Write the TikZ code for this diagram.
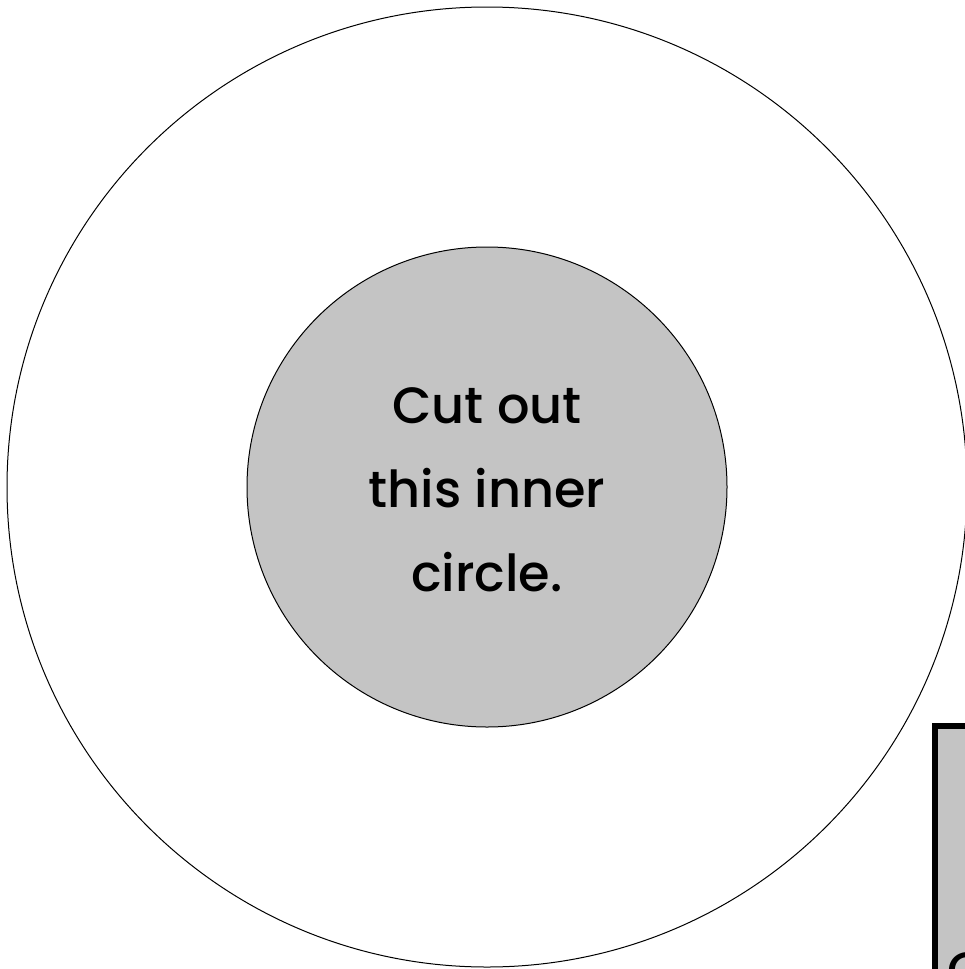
\documentclass[tikz,border=0pt]{standalone}
\usepackage{fontspec}
\setmainfont{Poppins}
\newfontfamily\labelfont{Poppins Medium}
\definecolor{cutgray}{RGB}{196,196,196}

\begin{document}
\begin{tikzpicture}[x=1pt, y=1pt, every node/.style={font=\labelfont\fontsize{51}{84}\selectfont}]
	\useasboundingbox (0,0) rectangle (964,-969);
	\coordinate (mid) at (487,-487);
	\draw[line width=1pt] (mid) circle (480);
	\draw[line width=1pt, fill=cutgray] (mid) circle (240);
	\node[align=center, inner sep=0pt] (label) at (487,-490) {Cut out\\this inner\\circle.};
	\draw[line width=5.5pt, fill=cutgray] (934.75,-725.75) rectangle (1100,-1100);
	\node[anchor=base west, inner sep=0pt] (peek) at (947,-988) {C};
\end{tikzpicture}
\end{document}
